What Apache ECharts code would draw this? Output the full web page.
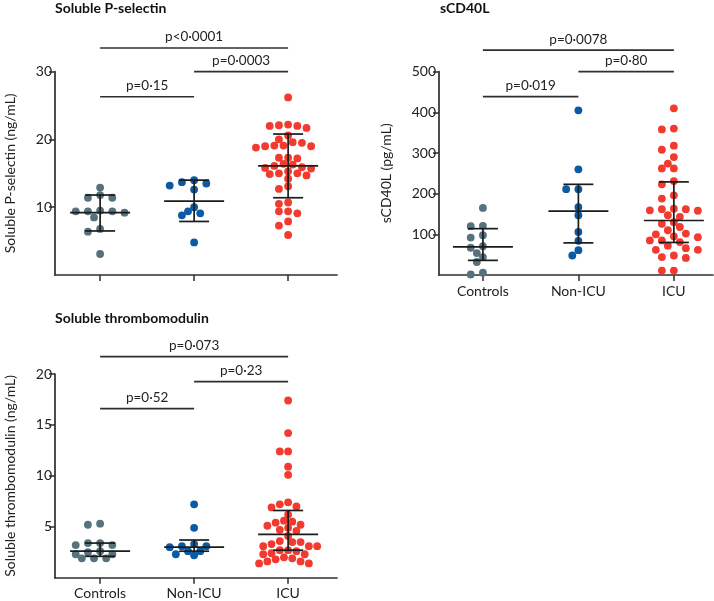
<!DOCTYPE html>
<html>
<head>
<meta charset="utf-8">
<script src="https://cdn.jsdelivr.net/npm/echarts@6/dist/echarts.min.js"></script>
<style>
html,body{margin:0;padding:0;background:#fff;}
#chart{width:714px;height:601px;}
</style>
</head>
<body>
<div id="chart"></div>
<script>
// ---------------- DATA ----------------
const categories = ['Controls', 'Non-ICU', 'ICU'];

// Soluble P-selectin (ng/mL)
const pselControls = [12.9, 11.8, 11.4, 11.4, 9.5, 9.4, 9.4, 9.4, 9.2, 8.5, 6.8, 6.4, 3.1];
const pselNonIcu = [14.0, 13.7, 13.5, 13.2, 12.6, 10.0, 9.4, 9.1, 8.8, 4.8];
const pselIcu = [26.2, 22.2, 22.1, 22.0, 22.0, 21.7, 20.6, 20.0, 19.6, 19.5, 19.1, 19.1, 19.0, 19.0, 18.8,
  17.3, 17.3, 17.2, 16.4, 16.3, 16.1, 15.9, 15.8, 15.7, 15.3, 15.0, 15.0, 14.9, 14.7, 14.2,
  13.1, 12.7, 10.7, 10.5, 9.4, 9.4, 9.1, 7.9, 7.3, 5.9];
const pselMedian = [9.2, 10.9, 16.1];
const pselQ1 = [6.5, 7.9, 11.4];
const pselQ3 = [11.8, 14.0, 20.8];
const pselPairFrom = [0, 1, 0];
const pselPairTo = [2, 2, 1];
const pselPLevels = [33.5, 30, 26.3];
const pselPLabels = ['p<0·0001', 'p=0·0003', 'p=0·15'];

// sCD40L (pg/mL)
const cd40Controls = [165, 121, 120, 98, 92, 71, 67, 54, 44, 32, 5.6, 1.5];
const cd40NonIcu = [405, 260, 211, 211, 167, 147, 106, 84, 61, 48];
const cd40Icu = [410, 360, 358, 318, 308, 290, 274, 262, 262, 231, 223, 196, 188, 163, 162, 162, 159, 158,
  147, 143, 130, 126, 118, 110, 102, 100, 95, 93, 85, 85, 81, 72, 66, 62, 62, 48, 44, 42, 11, 11];
const cd40Median = [69, 157, 134];
const cd40Q1 = [36, 79, 80];
const cd40Q3 = [114, 223, 229];
const cd40PairFrom = [0, 1, 0];
const cd40PairTo = [2, 2, 1];
const cd40PLevels = [553, 500, 438.5];
const cd40PLabels = ['p=0·0078', 'p=0·80', 'p=0·019'];

// Soluble thrombomodulin (ng/mL)
const tmControls = [5.3, 5.2, 3.4, 3.4, 3.2, 3.2, 2.6, 2.5, 2.3, 2.3, 1.9, 1.9, 1.9];
const tmNonIcu = [7.2, 4.9, 3.3, 3.1, 3.1, 3.0, 2.6, 2.6, 2.3, 2.2];
const tmIcu = [17.4, 14.2, 12.4, 12.4, 10.9, 10.1, 7.4, 7.2, 7.0, 6.9, 6.2, 5.6, 5.5, 5.4, 5.2, 5.1,
  4.9, 4.7, 4.6, 4.1, 3.6, 3.5, 3.5, 3.3, 3.1, 3.1, 3.1, 2.7, 2.7, 2.6, 2.4, 2.3, 2.3, 2.0, 1.9, 1.8,
  1.6, 1.6, 1.4, 1.4];
const tmMedian = [2.6, 3.0, 4.25];
const tmQ1 = [2.1, 2.6, 2.7];
const tmQ3 = [3.4, 3.7, 6.6];
const tmPairFrom = [0, 1, 0];
const tmPairTo = [2, 2, 1];
const tmPLevels = [21.7, 19.25, 16.6];
const tmPLabels = ['p=0·073', 'p=0·23', 'p=0·52'];

// ---------------- STYLE / LAYOUT ----------------
const FONT = 'Lato';
const groupColors = ['#56727c', '#0b5aa6', '#f23a2f'];
const panels = [
  { title: 'Soluble P-selectin', yName: 'Soluble P-selectin (ng/mL)', groups: [pselControls, pselNonIcu, pselIcu],
    median: pselMedian, q1: pselQ1, q3: pselQ3, from: pselPairFrom, to: pselPairTo, levels: pselPLevels, labels: pselPLabels,
    grid: { left: 55, top: 71.7, width: 282, height: 203.3 }, yMax: 30, yInterval: 10, xMin: -0.48, xMax: 2.52,
    nameGap: 38, showX: false, titlePos: [55, 1], slots: [12.2, 12.2, 9.2] },
  { title: 'sCD40L', yName: 'sCD40L (pg/mL)', groups: [cd40Controls, cd40NonIcu, cd40Icu],
    median: cd40Median, q1: cd40Q1, q3: cd40Q3, from: cd40PairFrom, to: cd40PairTo, levels: cd40PLevels, labels: cd40PLabels,
    grid: { left: 439, top: 71.7, width: 274, height: 203.3 }, yMax: 500, yInterval: 100, xMin: -0.46, xMax: 2.41,
    nameGap: 46, showX: true, titlePos: [440, 1], slots: [12.2, 12.2, 12] },
  { title: 'Soluble thrombomodulin', yName: 'Soluble thrombomodulin (ng/mL)', groups: [tmControls, tmNonIcu, tmIcu],
    median: tmMedian, q1: tmQ1, q3: tmQ3, from: tmPairFrom, to: tmPairTo, levels: tmPLevels, labels: tmPLabels,
    grid: { left: 55, top: 374, width: 282, height: 203.7 }, yMax: 20, yInterval: 5, xMin: -0.48, xMax: 2.52,
    nameGap: 38, showX: true, titlePos: [55, 311], slots: [12.2, 12.2, 8.3] }
];

// beeswarm offsets (px) computed from the values with the axis pixel scale;
// candidate positions on half-slot steps, 2D collision test
function swarm(values, pxPerUnit, slot, diam) {
  const order = values.map((v, i) => i).sort((a, b) => values[b] - values[a]);
  const placed = [];
  const xs = new Array(values.length);
  const half = slot / 2;
  order.forEach(i => {
    const y = values[i] * pxPerUnit;
    for (let j = 0; ; j++) {
      const k = j === 0 ? 0 : (j % 2 ? -Math.ceil(j / 2) : Math.ceil(j / 2));
      const x = k * half;
      if (!placed.some(p => Math.hypot(p.x - x, p.y - y) < diam)) {
        placed.push({ x, y }); xs[i] = x; break;
      }
    }
  });
  return xs;
}

const option = {
  backgroundColor: '#fff',
  animation: false,
  graphic: [], grid: [], xAxis: [], yAxis: [], series: []
};

panels.forEach((p, pi) => {
  option.graphic.push({
    type: 'text', x: p.titlePos[0], y: p.titlePos[1], silent: true,
    style: { text: p.title, fontFamily: FONT, fontSize: 14, fontWeight: 'bold', fill: '#111', align: 'left', verticalAlign: 'top' }
  });
  option.grid.push(Object.assign({ containLabel: false }, p.grid));
  const ticks = [];
  for (let v = p.yInterval; v <= p.yMax; v += p.yInterval) ticks.push(v);
  option.xAxis.push({
    gridIndex: pi, type: 'value', min: p.xMin, max: p.xMax,
    axisLine: { show: true, onZero: false, lineStyle: { color: '#2e2e2e', width: 1.7 } },
    axisTick: { show: true, length: 6, customValues: [0, 1, 2], lineStyle: { color: '#2e2e2e', width: 1.5 } },
    axisLabel: { show: p.showX, customValues: [0, 1, 2], margin: 9, formatter: v => categories[Math.round(v)],
      fontFamily: FONT, fontSize: 14, color: '#222' },
    splitLine: { show: false }
  });
  option.yAxis.push({
    gridIndex: pi, type: 'value', min: 0, max: p.yMax, interval: p.yInterval,
    name: p.yName, nameLocation: 'middle', nameGap: p.nameGap,
    nameTextStyle: { fontFamily: FONT, fontSize: 14, color: '#222' },
    axisLine: { show: true, onZero: false, lineStyle: { color: '#2e2e2e', width: 1.7 } },
    axisTick: { show: true, length: 6, customValues: ticks, lineStyle: { color: '#2e2e2e', width: 1.5 } },
    axisLabel: { customValues: ticks, margin: 3, fontFamily: FONT, fontSize: 14, color: '#222' },
    splitLine: { show: false }
  });
  const yPx = p.grid.height / p.yMax;
  const xPx = p.grid.width / (p.xMax - p.xMin);
  p.groups.forEach((vals, gi) => {
    const offs = swarm(vals, yPx, p.slots[gi], 7.3);
    option.series.push({
      type: 'scatter', xAxisIndex: pi, yAxisIndex: pi, symbolSize: 7.8, z: 2,
      itemStyle: { color: groupColors[gi], opacity: 1 },
      data: vals.map((v, i) => [gi + offs[i] / xPx, v]),
      silent: true
    });
  });
  // median + IQR bars
  option.series.push({
    type: 'custom', xAxisIndex: pi, yAxisIndex: pi, z: 5, silent: true,
    data: categories.map((c, gi) => [gi, p.median[gi], p.q1[gi], p.q3[gi]]),
    renderItem: (params, api) => {
      const gi = params.dataIndex;
      const m = api.coord([gi, p.median[gi]]);
      const lo = api.coord([gi, p.q1[gi]]);
      const hi = api.coord([gi, p.q3[gi]]);
      const st = { stroke: '#1b1b1b', lineWidth: 1.7 };
      return { type: 'group', children: [
        { type: 'line', shape: { x1: m[0] - 30, y1: m[1], x2: m[0] + 30, y2: m[1] }, style: st },
        { type: 'line', shape: { x1: lo[0] - 15, y1: lo[1], x2: lo[0] + 15, y2: lo[1] }, style: st },
        { type: 'line', shape: { x1: hi[0] - 15, y1: hi[1], x2: hi[0] + 15, y2: hi[1] }, style: st },
        { type: 'line', shape: { x1: lo[0], y1: lo[1], x2: hi[0], y2: hi[1] }, style: st }
      ] };
    }
  });
  // significance brackets
  option.series.push({
    type: 'custom', xAxisIndex: pi, yAxisIndex: pi, z: 5, silent: true, clip: false,
    data: p.levels.map((lv, k) => [p.from[k], lv]),
    renderItem: (params, api) => {
      const k = params.dataIndex;
      const a = api.coord([p.from[k], p.levels[k]]);
      const b = api.coord([p.to[k], p.levels[k]]);
      return { type: 'group', children: [
        { type: 'line', shape: { x1: a[0], y1: a[1], x2: b[0], y2: b[1] }, style: { stroke: '#2e2e2e', lineWidth: 1.7 } },
        { type: 'text', x: (a[0] + b[0]) / 2, y: a[1] - 11,
          style: { text: p.labels[k], align: 'center', verticalAlign: 'middle',
            fontFamily: FONT, fontSize: 13.5, fill: '#222' } }
      ] };
    }
  });
});

const chart = echarts.init(document.getElementById('chart'), null, { renderer: 'canvas' });
chart.setOption(option);
</script>
</body>
</html>
